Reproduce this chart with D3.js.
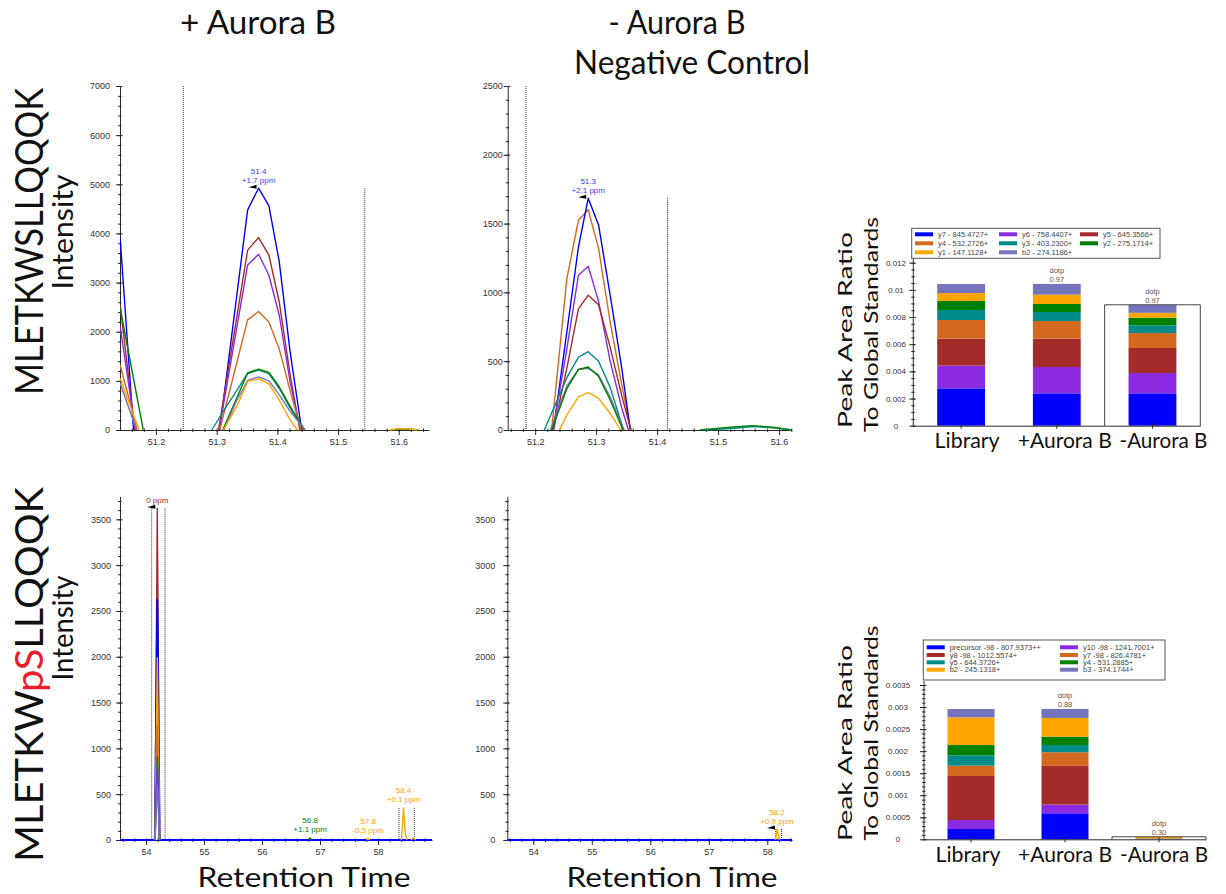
<!DOCTYPE html>
<html>
<head>
<meta charset="utf-8">
<script src="https://cdnjs.cloudflare.com/ajax/libs/d3/7.8.5/d3.min.js"></script>
<style>
  html, body { margin: 0; padding: 0; background: #fff; }
  svg { display: block; }
</style>
</head>
<body>
<svg id="fig" width="1226" height="894"></svg>
<script>
// ---------- transition colours ----------
const ionColors = ["#0000ff", "#8a2be2", "#a52a2a", "#d2691e", "#008b8b", "#008000", "#ffa500", "#7474bc"];

// ---------- MLETKWSLLQQQK transitions ----------
const unmodIons = ["y7 - 845.4727+", "y6 - 758.4407+", "y5 - 645.3566+", "y4 - 532.2726+",
                   "y3 - 403.2300+", "y2 - 275.1714+", "y1 - 147.1128+", "b2 - 274.1186+"];

// chromatograms, + Aurora B: [retention time (min), intensity]; null breaks a trace
const plusY7 = [[51.141,3900],[51.163,0],null,[51.305,0],[51.351,4480],[51.369,4920],[51.386,4560],[51.403,3430],[51.421,1590],[51.440,0]];
const plusY6 = [[51.141,2100],[51.166,0],null,[51.304,0],[51.351,3360],[51.369,3575],[51.386,3150],[51.403,2340],[51.421,980],[51.438,0]];
const plusY5 = [[51.141,2550],[51.165,0],null,[51.303,0],[51.351,3660],[51.369,3915],[51.386,3560],[51.403,2610],[51.421,1120],[51.437,0]];
const plusY4 = [[51.141,1320],[51.169,0],null,[51.305,0],[51.351,2240],[51.369,2410],[51.386,2200],[51.403,1650],[51.421,800],[51.439,0]];
const plusY3 = [[51.292,0],[51.316,480],[51.333,800],[51.351,1150],[51.369,1220],[51.386,1150],[51.403,850],[51.421,450],[51.444,0]];
const plusY2 = [[51.141,2480],[51.179,0],null,[51.310,0],[51.333,650],[51.351,1160],[51.369,1240],[51.386,1170],[51.403,880],[51.421,480],[51.445,0],null,[51.590,0],[51.605,25],[51.620,18],[51.632,0]];
const plusY1 = [[51.141,1050],[51.172,0],null,[51.311,0],[51.333,480],[51.351,990],[51.369,1040],[51.386,940],[51.403,610],[51.421,200],[51.433,0],null,[51.585,0],[51.600,30],[51.615,22],[51.630,0]];
const plusB2 = [[51.141,950],[51.168,0],null,[51.312,0],[51.333,600],[51.351,1010],[51.369,1080],[51.386,1000],[51.403,720],[51.421,380],[51.446,0]];

// chromatograms, - Aurora B
const minusY7 = [[51.230,0],[51.271,1330],[51.287,1684],[51.304,1490],[51.323,980],[51.342,450],[51.356,0]];
const minusY6 = [[51.229,0],[51.252,590],[51.271,1125],[51.287,1190],[51.304,935],[51.323,500],[51.342,160],[51.353,0]];
const minusY5 = [[51.230,0],[51.252,450],[51.271,880],[51.287,980],[51.304,910],[51.323,600],[51.342,250],[51.357,0]];
const minusY4 = [[51.227,0],[51.252,1100],[51.271,1525],[51.287,1600],[51.304,1320],[51.323,785],[51.342,330],[51.357,0]];
const minusY3 = [[51.215,0],[51.252,380],[51.271,530],[51.287,569],[51.304,500],[51.323,310],[51.345,0],null,[51.480,0],[51.530,15],[51.560,25],[51.600,12],[51.620,0]];
const minusY2 = [[51.227,0],[51.252,300],[51.271,440],[51.287,458],[51.304,390],[51.323,220],[51.344,0],null,[51.470,0],[51.520,20],[51.555,32],[51.590,20],[51.620,0]];
const minusY1 = [[51.240,0],[51.252,110],[51.271,240],[51.287,271],[51.304,230],[51.323,120],[51.340,0]];
const minusB2 = [[51.225,0],[51.252,320],[51.271,440],[51.287,448],[51.304,400],[51.323,240],[51.346,0]];

// ---------- MLETKWpSLLQQQK transitions ----------
const phosIons = ["precursor -98 - 807.9373++", "y10 -98 - 1241.7001+", "y8 -98 - 1012.5574+", "y7 -98 - 826.4781+",
                  "y5 - 644.3726+", "y4 - 531.2885+", "b2 - 245.1318+", "b3 - 374.1744+"];

const phPlusPrec = [[53.552,0],[54.155,0],[54.195,2620],[54.235,0],[58.931,0]];
const phPlusY10  = [[54.155,0],[54.195,800],[54.235,0]];
const phPlusY8   = [[54.155,0],[54.195,3620],[54.235,0]];
const phPlusY7   = [[54.155,0],[54.195,1250],[54.235,0]];
const phPlusY5   = [[54.155,0],[54.195,850],[54.235,0]];
const phPlusY4   = [[54.155,0],[54.195,900],[54.235,0],null,[56.800,0],[56.830,22],[56.860,0]];
const phPlusB2   = [[54.155,0],[54.195,1990],[54.235,0],null,[57.800,0],[57.830,15],[57.860,0],null,[58.405,0],[58.440,350],[58.470,80],[58.500,0],null,[58.570,0],[58.610,22],[58.650,0]];
const phPlusB3   = [[54.155,0],[54.195,600],[54.235,0]];

const phMinusPrec = [[53.556,0],[58.422,0]];
const phMinusY10  = [[53.556,0],[58.422,0]];
const phMinusY8   = [[53.556,0],[58.422,0]];
const phMinusY7   = [[53.556,0],[58.422,0]];
const phMinusY5   = [[53.556,0],[58.422,0]];
const phMinusY4   = [[53.556,0],[58.422,0]];
const phMinusB2   = [[58.140,0],[58.165,120],[58.190,55],[58.205,0]];
const phMinusB3   = [[53.556,0],[58.422,0]];

// peak boundaries [time, height]
const plusBounds = [[51.245,7000],[51.544,4920]];
const minusBounds = [[51.185,2500],[51.417,1684]];
const phPlusBounds = [[54.098,3620],[54.328,3620],[58.362,350],[58.626,350]];
const phMinusBounds = [[58.145,120],[58.243,120]];

// peak annotations [time, intensity, line 1, line 2, colour index, marker]
const plusNotes = [[51.369,4920,"51.4","+1.7 ppm",0,true]];
const minusNotes = [[51.287,1684,"51.3","+2.1 ppm",0,true]];
const phPlusNotes = [[54.195,3620,"","0 ppm",2,true],[56.830,22,"56.8","+1.1 ppm",5,false],[57.830,15,"57.8","-0.5 ppm",6,false],[58.440,350,"58.4","+0.1 ppm",6,false]];
const phMinusNotes = [[58.165,120,"58.2","+0.9 ppm",6,true]];

// axis ticks
const plusYTicks = [0,1000,2000,3000,4000,5000,6000,7000];
const minusYTicks = [0,500,1000,1500,2000,2500];
const phYTicks = [0,500,1000,1500,2000,2500,3000,3500];
const rtTicksTop = [51.2,51.3,51.4,51.5,51.6];
const rtTicksBottom = [54,55,56,57,58];

// ---------- peak areas (ratio to global standards) ----------
const replicates = ["Library", "+Aurora B", "-Aurora B"];
const unmodAreaY7 = [0.00275, 0.00238, 0.00238];
const unmodAreaY6 = [0.00167, 0.00194, 0.00150];
const unmodAreaY5 = [0.00199, 0.00209, 0.00184];
const unmodAreaY4 = [0.00137, 0.00130, 0.00110];
const unmodAreaY3 = [0.00074, 0.00066, 0.00056];
const unmodAreaY2 = [0.00066, 0.00059, 0.00056];
const unmodAreaY1 = [0.00059, 0.00069, 0.00037];
const unmodAreaB2 = [0.00066, 0.00079, 0.00059];
const unmodDotp = [null, "0.97", "0.97"];

const phosAreaPrec = [0.000234, 0.000590, 0.000005];
const phosAreaY10  = [0.000204, 0.000197, 0.000003];
const phosAreaY8   = [0.000998, 0.000877, 0.000006];
const phosAreaY7   = [0.000234, 0.000310, 0.000003];
const phosAreaY5   = [0.000234, 0.000166, 0.000002];
const phosAreaY4   = [0.000234, 0.000189, 0.000003];
const phosAreaB2   = [0.000628, 0.000424, 0.000030];
const phosAreaB3   = [0.000189, 0.000204, 0.000005];
const phosDotp = [null, "0.88", "0.30"];

const unmodAreaTicks = [0, 0.002, 0.004, 0.006, 0.008, 0.01, 0.012];
const phosAreaTicks = [0, 0.0005, 0.001, 0.0015, 0.002, 0.0025, 0.003, 0.0035];

// ---------- drawing ----------
const svg = d3.select("#fig");
const defs = svg.append("defs");
const tickFont = "'Liberation Sans', Arial, sans-serif";
const bigFont = "Lato, 'Open Sans', sans-serif";
const axisColor = "#2a2a2a";

function minorValues(domain, step) {
  const out = [];
  const start = Math.ceil(domain[0] / step - 1e-9);
  const end = Math.floor(domain[1] / step + 1e-9);
  for (let i = start; i <= end; i++) out.push(+(i * step).toFixed(6));
  return out;
}

function styleAxis(sel, fontSize) {
  sel.selectAll("path, line").attr("stroke", axisColor).attr("stroke-width", 1);
  sel.selectAll("text").attr("fill", "#333").attr("font-family", tickFont).attr("font-size", fontSize);
}

function chromPanel(cfg) {
  const g = svg.append("g");
  const x = d3.scaleLinear().domain(cfg.xDomain).range(cfg.xRange);
  const y = d3.scaleLinear().domain(cfg.yDomain).range(cfg.yRange);

  // y axis: minor then major ticks, crossing the axis line
  const yMin = g.append("g").attr("transform", `translate(${cfg.xRange[0]},0)`)
    .call(d3.axisLeft(y).tickValues(minorValues(cfg.yDomain, cfg.yMinor)).tickSize(2).tickSizeOuter(0).tickFormat(""));
  yMin.select(".domain").remove();
  yMin.selectAll(".tick line").attr("x1", 1.5);
  styleAxis(yMin, 9);
  const yMaj = g.append("g").attr("transform", `translate(${cfg.xRange[0]},0)`)
    .call(d3.axisLeft(y).tickValues(cfg.yTicks).tickSize(4).tickSizeOuter(0).tickPadding(cfg.yLabelGap - 4).tickFormat(d3.format("d")));
  yMaj.selectAll(".tick line").attr("x1", 2.5);
  styleAxis(yMaj, 9);

  // x axis
  const xMin = g.append("g").attr("transform", `translate(0,${cfg.yRange[0]})`)
    .call(d3.axisBottom(x).tickValues(minorValues(cfg.xDomain, cfg.xMinor)).tickSize(2).tickSizeOuter(0).tickFormat(""));
  xMin.select(".domain").remove();
  xMin.selectAll(".tick line").attr("y1", -1.5);
  styleAxis(xMin, 9);
  const xMaj = g.append("g").attr("transform", `translate(0,${cfg.yRange[0]})`)
    .call(d3.axisBottom(x).tickValues(cfg.xTicks).tickSize(5).tickSizeOuter(0).tickPadding(cfg.xLabelGap).tickFormat(cfg.xFormat || d3.format("d")));
  styleAxis(xMaj, 9);

  // clipping for traces
  const clipId = "clip-" + cfg.id;
  defs.append("clipPath").attr("id", clipId).append("rect")
    .attr("x", cfg.xRange[0]).attr("y", cfg.yRange[1] - 20)
    .attr("width", cfg.xRange[1] - cfg.xRange[0]).attr("height", cfg.yRange[0] - cfg.yRange[1] + 21);

  // peak boundaries
  g.append("g").selectAll("line").data(cfg.bounds).join("line")
    .attr("x1", d => x(d[0])).attr("x2", d => x(d[0]))
    .attr("y1", d => y(d[1])).attr("y2", y(0))
    .attr("stroke", "#333").attr("stroke-width", 1).attr("stroke-dasharray", "1,1");

  // traces, drawn in the given order (colour follows the transition index)
  const line = d3.line().defined(d => d !== null).x(d => x(d[0])).y(d => y(d[1]));
  const order = cfg.drawOrder.map(i => ({ s: cfg.series[i], i }));
  g.append("g").attr("clip-path", `url(#${clipId})`).selectAll("path").data(order).join("path")
    .attr("d", d => line(d.s))
    .attr("fill", "none")
    .attr("stroke", d => ionColors[d.i])
    .attr("stroke-width", d => (d.i === 0 && cfg.thickFirst) ? 2 : 1.4)
    .attr("stroke-linejoin", "round");

  // annotations
  const notes = g.append("g").attr("font-family", tickFont).attr("font-size", 8).attr("text-anchor", "middle");
  cfg.notes.forEach(n => {
    const px = x(n[0]), py = y(n[1]);
    const col = n[4] === 0 ? "#3c3cff" : ionColors[n[4]];
    if (n[2]) notes.append("text").attr("x", px).attr("y", py - 14.5).attr("fill", col).text(n[2]);
    notes.append("text").attr("x", px).attr("y", py - 5.5).attr("fill", col).text(n[3]);
    if (n[5]) {
      g.append("path")
        .attr("d", `M${px - 10},${py - 1} L${px - 2},${py - 3.5} L${px - 2},${py + 0.5} Z`)
        .attr("fill", "#000");
    }
  });
  return { x, y };
}

// + Aurora B, unmodified
chromPanel({
  id: "a", xDomain: [51.1407, 51.6498], xRange: [120, 429], yDomain: [0, 7000], yRange: [430, 86],
  yTicks: plusYTicks, yMinor: 200, xTicks: rtTicksTop, xMinor: 0.02, yLabelGap: 10, xLabelGap: 4,
  xFormat: d3.format(".1f"),
  series: [plusY7, plusY6, plusY5, plusY4, plusY3, plusY2, plusY1, plusB2],
  drawOrder: [0, 2, 1, 3, 4, 5, 7, 6],
  bounds: plusBounds, notes: plusNotes
});
// - Aurora B, unmodified
chromPanel({
  id: "b", xDomain: [51.155, 51.62], xRange: [507.7, 791.3], yDomain: [0, 2500], yRange: [430, 86],
  yTicks: minusYTicks, yMinor: 100, xTicks: rtTicksTop, xMinor: 0.02, yLabelGap: 5, xLabelGap: 4,
  xFormat: d3.format(".1f"),
  series: [minusY7, minusY6, minusY5, minusY4, minusY3, minusY2, minusY1, minusB2],
  drawOrder: [3, 0, 1, 2, 4, 7, 5, 6],
  bounds: minusBounds, notes: minusNotes
});
// + Aurora B, phosphorylated
chromPanel({
  id: "c", xDomain: [53.552, 58.931], xRange: [120, 432], yDomain: [0, 3750], yRange: [840, 496.4],
  yTicks: phYTicks, yMinor: 100, xTicks: rtTicksBottom, xMinor: 0.2, yLabelGap: 9, xLabelGap: 4,
  series: [phPlusPrec, phPlusY10, phPlusY8, phPlusY7, phPlusY5, phPlusY4, phPlusB2, phPlusB3],
  drawOrder: [2, 0, 6, 3, 5, 4, 1, 7],
  bounds: phPlusBounds, notes: phPlusNotes, thickFirst: true
});
// - Aurora B, phosphorylated
chromPanel({
  id: "d", xDomain: [53.556, 58.422], xRange: [507.3, 792], yDomain: [0, 3750], yRange: [840, 496.4],
  yTicks: phYTicks, yMinor: 100, xTicks: rtTicksBottom, xMinor: 0.2, yLabelGap: 12, xLabelGap: 4,
  series: [phMinusPrec, phMinusY10, phMinusY8, phMinusY7, phMinusY5, phMinusY4, phMinusB2, phMinusB3],
  drawOrder: [7, 5, 4, 3, 2, 1, 0, 6],
  bounds: phMinusBounds, notes: phMinusNotes, thickFirst: true
});

// ---------- stacked peak area bars ----------
function areaPanel(cfg) {
  const g = svg.append("g");
  const x = d3.scaleBand().domain(replicates).range(cfg.xRange).paddingInner(0.5).paddingOuter(0.25);
  const y = d3.scaleLinear().domain(cfg.yDomain).range(cfg.yRange);

  const table = replicates.map((r, i) => {
    const row = { rep: r };
    cfg.ions.forEach((name, k) => { row[name] = cfg.areas[k][i]; });
    return row;
  });
  const stacked = d3.stack().keys(cfg.ions)(table);

  g.append("g").selectAll("g").data(stacked).join("g")
    .attr("fill", (d, k) => ionColors[k])
    .selectAll("rect").data(d => d).join("rect")
    .attr("x", d => x(d.data.rep)).attr("width", x.bandwidth())
    .attr("y", d => y(d[1])).attr("height", d => Math.max(0, y(d[0]) - y(d[1])));

  // selected replicate outline
  const totals = table.map(r => d3.sum(cfg.ions, k => r[k]));
  const last = replicates.length - 1;
  const step = x.step();
  const x0 = x(replicates[last]) - x.paddingInner() * step / 2;
  g.append("path")
    .attr("d", `M${x0},${y(0)} V${y(totals[last])} H${x0 + step} V${y(0)}`)
    .attr("fill", "none").attr("stroke", "#444").attr("stroke-width", 1);

  // axes
  const yMin = g.append("g").attr("transform", `translate(${cfg.xRange[0]},0)`)
    .call(d3.axisLeft(y).tickValues(minorValues(cfg.yDomain, cfg.minor)).tickSize(2).tickSizeOuter(0).tickFormat(""));
  yMin.select(".domain").remove();
  yMin.selectAll(".tick line").attr("x1", 1.5);
  styleAxis(yMin, 8);
  const yMaj = g.append("g").attr("transform", `translate(${cfg.xRange[0]},0)`)
    .call(d3.axisLeft(y).tickValues(cfg.ticks).tickSize(4).tickSizeOuter(0).tickFormat(d3.format("~g")));
  yMaj.selectAll(".tick line").attr("x1", 2.5);
  yMaj.select(".domain").attr("d", `M0,${cfg.yRange[0]} V${cfg.axisTop}`);
  styleAxis(yMaj, 8);
  yMaj.selectAll(".tick text").attr("text-anchor", "middle").attr("x", cfg.labelX - cfg.xRange[0]);

  const xAx = g.append("g").attr("transform", `translate(0,${cfg.yRange[0]})`)
    .call(d3.axisBottom(x).tickSize(3).tickSizeOuter(0).tickFormat(""));
  xAx.selectAll(".tick line").attr("y1", -2);
  styleAxis(xAx, 8);

  // dot products
  const dg = g.append("g").attr("font-family", tickFont).attr("font-size", 7.5).attr("fill", "#555").attr("text-anchor", "middle");
  cfg.dotp.forEach((v, i) => {
    if (!v) return;
    const cx = x(replicates[i]) + x.bandwidth() / 2, ty = y(totals[i]);
    dg.append("text").attr("x", cx).attr("y", ty - 10.5).text("dotp");
    dg.append("text").attr("x", cx).attr("y", ty - 2).text(v);
  });

  // replicate names
  g.append("g").selectAll("text").data(replicates).join("text")
    .attr("x", (d, i) => x(d) + x.bandwidth() / 2 + cfg.nameShift[i])
    .attr("y", cfg.nameY)
    .attr("text-anchor", "middle")
    .attr("font-family", bigFont).attr("font-size", 21).attr("fill", "#111")
    .attr("textLength", (d, i) => cfg.nameWidths[i]).attr("lengthAdjust", "spacingAndGlyphs")
    .text(d => d);

  // y title
  const tg = g.append("g").attr("font-family", bigFont).attr("font-size", 20).attr("fill", "#111").attr("text-anchor", "middle");
  tg.append("text").attr("transform", `translate(${cfg.titleX[0]},${cfg.titleY[0]}) rotate(-90)`)
    .attr("textLength", cfg.titleLen[0]).attr("lengthAdjust", "spacingAndGlyphs").text("Peak Area Ratio");
  tg.append("text").attr("transform", `translate(${cfg.titleX[1]},${cfg.titleY[1]}) rotate(-90)`)
    .attr("textLength", cfg.titleLen[1]).attr("lengthAdjust", "spacingAndGlyphs").text("To Global Standards");

  // legend
  const lg = g.append("g");
  lg.append("rect").attr("x", cfg.legend.x).attr("y", cfg.legend.y).attr("width", cfg.legend.w).attr("height", cfg.legend.h)
    .attr("fill", "#fff").attr("stroke", "#555").attr("stroke-width", 1);
  cfg.ions.forEach((name, k) => {
    const col = k % cfg.legend.cols, row = Math.floor(k / cfg.legend.cols);
    const sx = cfg.legend.colX[col], sy = cfg.legend.rowY[row];
    lg.append("rect").attr("x", sx).attr("y", sy - 2).attr("width", 18).attr("height", 4).attr("fill", ionColors[k]);
    lg.append("text").attr("x", sx + 23).attr("y", sy + 2.6)
      .attr("font-family", tickFont).attr("font-size", 7.5).attr("fill", "#444").text(name);
  });
}

areaPanel({
  xRange: [913.3, 1200.3], yDomain: [0, 0.012], yRange: [425.7, 262.7], axisTop: 259,
  ticks: unmodAreaTicks, minor: 0.0005, labelX: 896,
  ions: unmodIons,
  areas: [unmodAreaY7, unmodAreaY6, unmodAreaY5, unmodAreaY4, unmodAreaY3, unmodAreaY2, unmodAreaY1, unmodAreaB2],
  dotp: unmodDotp,
  nameY: 448, nameShift: [6, 8, 11], nameWidths: [65, 94, 88],
  titleX: [852, 878], titleY: [330, 324.5], titleLen: [196, 215],
  legend: { x: 911.7, y: 228.3, w: 248.3, h: 30, cols: 3, colX: [915, 999, 1080], rowY: [234.3, 243.3, 252.3] }
});

areaPanel({
  xRange: [924, 1206], yDomain: [0, 0.0035], yRange: [839.3, 685], axisTop: 681,
  ticks: phosAreaTicks, minor: 0.0001, labelX: 898,
  ions: phosIons,
  areas: [phosAreaPrec, phosAreaY10, phosAreaY8, phosAreaY7, phosAreaY5, phosAreaY4, phosAreaB2, phosAreaB3],
  dotp: phosDotp,
  nameY: 862, nameShift: [-3, 0, 5], nameWidths: [65, 94, 88],
  titleX: [852, 878], titleY: [743, 733], titleLen: [196, 215],
  legend: { x: 923.3, y: 640, w: 241.7, h: 40, cols: 2, colX: [926.7, 1060], rowY: [647.3, 655, 662.3, 669.7] }
});

// ---------- panel titles and row labels ----------
const titles = svg.append("g").attr("font-family", bigFont).attr("fill", "#111").attr("text-anchor", "middle");
titles.append("text").attr("x", 258).attr("y", 34).attr("font-size", 33)
  .attr("textLength", 156).attr("lengthAdjust", "spacingAndGlyphs").text("+ Aurora B");
titles.append("text").attr("x", 677).attr("y", 34).attr("font-size", 33)
  .attr("textLength", 137).attr("lengthAdjust", "spacingAndGlyphs").text("- Aurora B");
titles.append("text").attr("x", 692).attr("y", 74).attr("font-size", 33)
  .attr("textLength", 236).attr("lengthAdjust", "spacingAndGlyphs").text("Negative Control");
titles.append("text").attr("x", 304).attr("y", 887).attr("font-size", 27)
  .attr("textLength", 213).attr("lengthAdjust", "spacingAndGlyphs").text("Retention Time");
titles.append("text").attr("x", 672).attr("y", 887).attr("font-size", 27)
  .attr("textLength", 211).attr("lengthAdjust", "spacingAndGlyphs").text("Retention Time");

const rowLab = svg.append("g").attr("font-family", bigFont).attr("fill", "#111").attr("text-anchor", "middle");
rowLab.append("text").attr("transform", "translate(43,241.5) rotate(-90)").attr("font-size", 38)
  .attr("textLength", 307).attr("lengthAdjust", "spacingAndGlyphs").text("MLETKWSLLQQQK");
rowLab.append("text").attr("transform", "translate(73,232) rotate(-90)").attr("font-size", 28)
  .attr("textLength", 115).attr("lengthAdjust", "spacingAndGlyphs").text("Intensity");
const ph = rowLab.append("text").attr("transform", "translate(43,674.5) rotate(-90)").attr("font-size", 38)
  .attr("textLength", 375).attr("lengthAdjust", "spacingAndGlyphs");
ph.append("tspan").text("MLETKW");
ph.append("tspan").attr("fill", "#e8202a").text("pS");
ph.append("tspan").text("LLQQQK");
rowLab.append("text").attr("transform", "translate(73,628) rotate(-90)").attr("font-size", 28)
  .attr("textLength", 105).attr("lengthAdjust", "spacingAndGlyphs").text("Intensity");
</script>
</body>
</html>
